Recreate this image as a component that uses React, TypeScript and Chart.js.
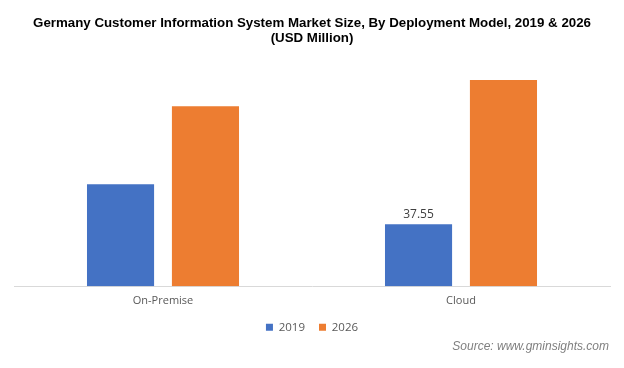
import React, { useEffect, useRef } from "react";
import { Chart, registerables } from "chart.js";

Chart.register(...registerables);

const categories = ["On-Premise", "Cloud"];
const seriesLabels = ["2019", "2026"];
const values2019 = [61.8, 37.55];
const values2026 = [109.0, 124.8];
const colors = ["#4472C4", "#ED7D31"];
const titleLines = [
  "Germany Customer Information System Market Size, By Deployment Model, 2019 & 2026",
  "(USD Million)",
];
const sourceText = "Source: www.gminsights.com";
const labelledPoint = { dataset: 0, index: 1 };

const extrasPlugin = {
  id: "extras",
  afterDatasetsDraw(chart: any) {
    const ctx = chart.ctx;
    const meta = chart.getDatasetMeta(labelledPoint.dataset);
    const el = meta.data[labelledPoint.index];
    const v = chart.data.datasets[labelledPoint.dataset].data[labelledPoint.index];
    ctx.save();
    ctx.font = "12px 'Open Sans'";
    ctx.fillStyle = "#404040";
    ctx.textAlign = "center";
    ctx.textBaseline = "bottom";
    ctx.fillText(Number(v).toFixed(2), el.x, el.y - 4);
    ctx.restore();
  },
  afterDraw(chart: any) {
    const ctx = chart.ctx;
    ctx.save();
    ctx.font = "italic 12px 'Liberation Sans'";
    ctx.fillStyle = "#7F7F7F";
    ctx.textAlign = "right";
    ctx.textBaseline = "middle";
    ctx.fillText(sourceText, chart.width - 15, 347);
    ctx.restore();
  },
};

export default function App() {
  const ref = useRef<HTMLCanvasElement>(null);
  useEffect(() => {
    document.body.style.margin = "0";
    const chart = new Chart(ref.current!, {
      type: "bar",
      data: {
        labels: categories,
        datasets: [
          { label: seriesLabels[0], data: values2019, backgroundColor: colors[0] },
          { label: seriesLabels[1], data: values2026, backgroundColor: colors[1] },
        ],
      },
      options: {
        animation: false,
        responsive: false,
        maintainAspectRatio: false,
        layout: { padding: { left: 14, right: 14, top: 0, bottom: 25 } },
        datasets: { bar: { categoryPercentage: 0.57, barPercentage: 0.79 } },
        scales: {
          x: {
            grid: { display: false },
            border: { display: true, color: "#D9D9D9", width: 1 },
            ticks: { color: "#595959", font: { family: "'Open Sans'", size: 11 }, padding: 0 },
          },
          y: { display: false, min: 0, max: 140 },
        },
        plugins: {
          title: {
            display: true,
            text: titleLines,
            color: "#000000",
            font: { family: "'Liberation Sans', Arial", size: 13.3, weight: "bold", lineHeight: 1.1 },
            padding: { top: 16, bottom: 9.7 },
          },
          legend: {
            position: "bottom",
            labels: {
              boxWidth: 7,
              boxHeight: 7,
              color: "#595959",
              font: { family: "'Open Sans'", size: 11.5 },
              padding: 14,
            },
          },
          tooltip: { enabled: false },
        },
      },
      plugins: [extrasPlugin],
    } as any);
    return () => chart.destroy();
  }, []);
  return <canvas ref={ref} width={624} height={368} style={{ display: "block" }} />;
}
